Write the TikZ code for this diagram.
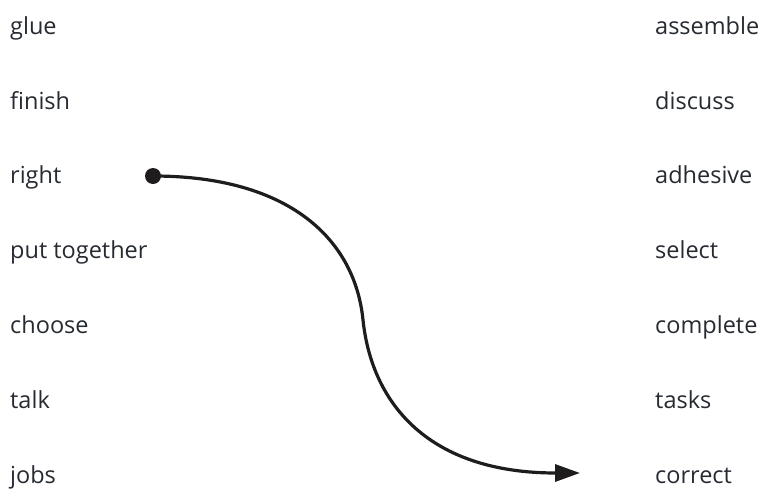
\documentclass[tikz,border=0pt]{standalone}
\usepackage{fontspec}
\setmainfont{Open Sans}
\usetikzlibrary{arrows.meta}
\definecolor{wordgray}{HTML}{262A31}
\definecolor{linkblack}{HTML}{1E1C1D}

\begin{document}
\begin{tikzpicture}[
  x=1pt, y=-1pt,
  >={Triangle[length=25pt,width=17pt]},
  word/.style={anchor=base west, inner sep=0pt, text=wordgray, font=\fontsize{23.5}{28}\selectfont},
  link/.style={->, line width=3.2pt, draw=linkblack}
]
\useasboundingbox (0,0) rectangle (763,490);
% left column
\node[word] (l1) at (10,34) {glue};
\node[word] (l2) at (10,109) {finish};
\node[word] (l3) at (10,183) {right};
\node[word] (l4) at (10,258) {put together};
\node[word] (l5) at (10,333) {choose};
\node[word] (l6) at (10,408) {talk};
\node[word] (l7) at (10,483) {jobs};
% right column
\node[word] (r1) at (655,34) {assemble};
\node[word] (r2) at (655,109) {discuss};
\node[word] (r3) at (655,183) {adhesive};
\node[word] (r4) at (655,258) {select};
\node[word] (r5) at (655,333) {complete};
\node[word] (r6) at (655,408) {tasks};
\node[word] (r7) at (655,483) {correct};
% example answer
\coordinate (start) at (153,176);
\coordinate (mid) at (363,320);
\coordinate (tip) at (580,473);
\fill[linkblack] (start) circle (8pt);
\draw[link] (start) .. controls (290,176) and (355,240) .. (mid)
  .. controls (372,405) and (430,473) .. (tip);
\end{tikzpicture}
\end{document}
